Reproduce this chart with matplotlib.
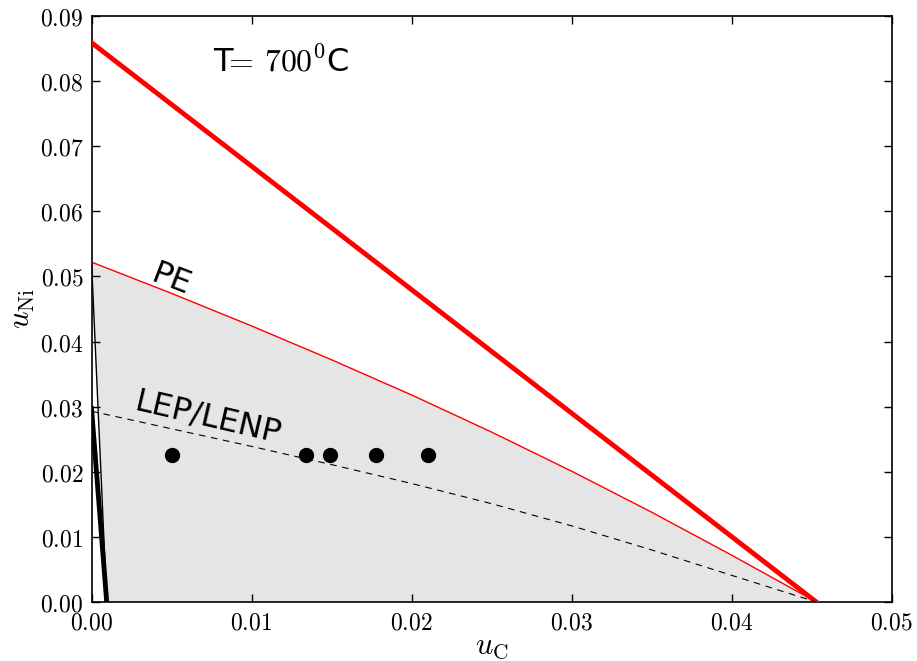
import matplotlib
matplotlib.use('Agg')
import matplotlib.pyplot as plt
from matplotlib.ticker import FuncFormatter, MultipleLocator

plt.rcParams['mathtext.fontset'] = 'cm'
plt.rcParams['font.family'] = 'DejaVu Sans'

# PE boundary (thin red)
pe_x = [0.0, 0.005, 0.010, 0.015, 0.020, 0.025, 0.030, 0.035, 0.040, 0.0453]
pe_y = [0.0522, 0.0474, 0.0424, 0.0372, 0.0318, 0.0261, 0.0201, 0.0138, 0.0072, 0.0]

# LEP/LENP boundary (dashed)
lep_x = [0.0, 0.005, 0.010, 0.015, 0.020, 0.025, 0.030, 0.035, 0.040, 0.0453]
lep_y = [0.0293, 0.0266, 0.0239, 0.0211, 0.0182, 0.0151, 0.0117, 0.0080, 0.0041, 0.0]

# outer limit (thick red)
lim_x = [0.0, 0.0453]
lim_y = [0.0859, 0.0]

# black lines near the u_Ni axis
thin_x = [0.0, 0.00095]
thin_y = [0.0522, 0.0]
thick_x = [0.0, 0.00095]
thick_y = [0.0297, 0.0]

# experimental points
pts_x = [0.0050, 0.0134, 0.0149, 0.0178, 0.0210]
pts_y = [0.0225, 0.0225, 0.0225, 0.0225, 0.0225]

fig = plt.figure(figsize=(9.17, 6.61), dpi=100)
ax = fig.add_axes([0.0998, 0.0893, 0.8724, 0.8865])

# shaded region between thin black line and PE curve
fx = pe_x + [thin_x[1]]
fy = pe_y + [thin_y[1]]
ax.fill(fx, fy, color='#e5e5e5', lw=0, zorder=1)

ax.plot(lim_x, lim_y, color='red', lw=3.5, zorder=3)
ax.plot(pe_x, pe_y, color='red', lw=1.0, zorder=3)
ax.plot(lep_x, lep_y, color='black', lw=0.8, ls=(0, (6, 5)), zorder=3)
ax.plot(thin_x, thin_y, color='black', lw=1.0, zorder=3)
ax.plot(thick_x, thick_y, color='black', lw=3.5, zorder=3)
ax.plot(pts_x, pts_y, 'o', color='black', ms=10, zorder=4)

ax.text(0.0076, 0.0828, r'T$\!\!=\,700^0$C', fontsize=23, ha='left', va='center')
ax.text(0.0050, 0.0495, 'PE', fontsize=23, rotation=-21,
        ha='center', va='center', rotation_mode='anchor')
ax.text(0.0073, 0.0283, 'LEP/LENP', fontsize=23, rotation=-13,
        ha='center', va='center', rotation_mode='anchor')

ax.set_xlim(0, 0.05)
ax.set_ylim(0, 0.09)
ax.xaxis.set_major_locator(MultipleLocator(0.01))
ax.yaxis.set_major_locator(MultipleLocator(0.01))
fmt = FuncFormatter(lambda v, p: r'$%.2f$' % v)
ax.xaxis.set_major_formatter(fmt)
ax.yaxis.set_major_formatter(fmt)
ax.tick_params(direction='in', top=True, right=True, length=6, width=1,
               labelsize=17, pad=6)
for s in ax.spines.values():
    s.set_linewidth(1.2)

ax.set_xlabel(r'$u_{\rm C}$', fontsize=22, labelpad=-2)
ax.set_ylabel(r'$u_{\rm Ni}$', fontsize=22, labelpad=2)

fig.savefig('out.png', dpi=100)
